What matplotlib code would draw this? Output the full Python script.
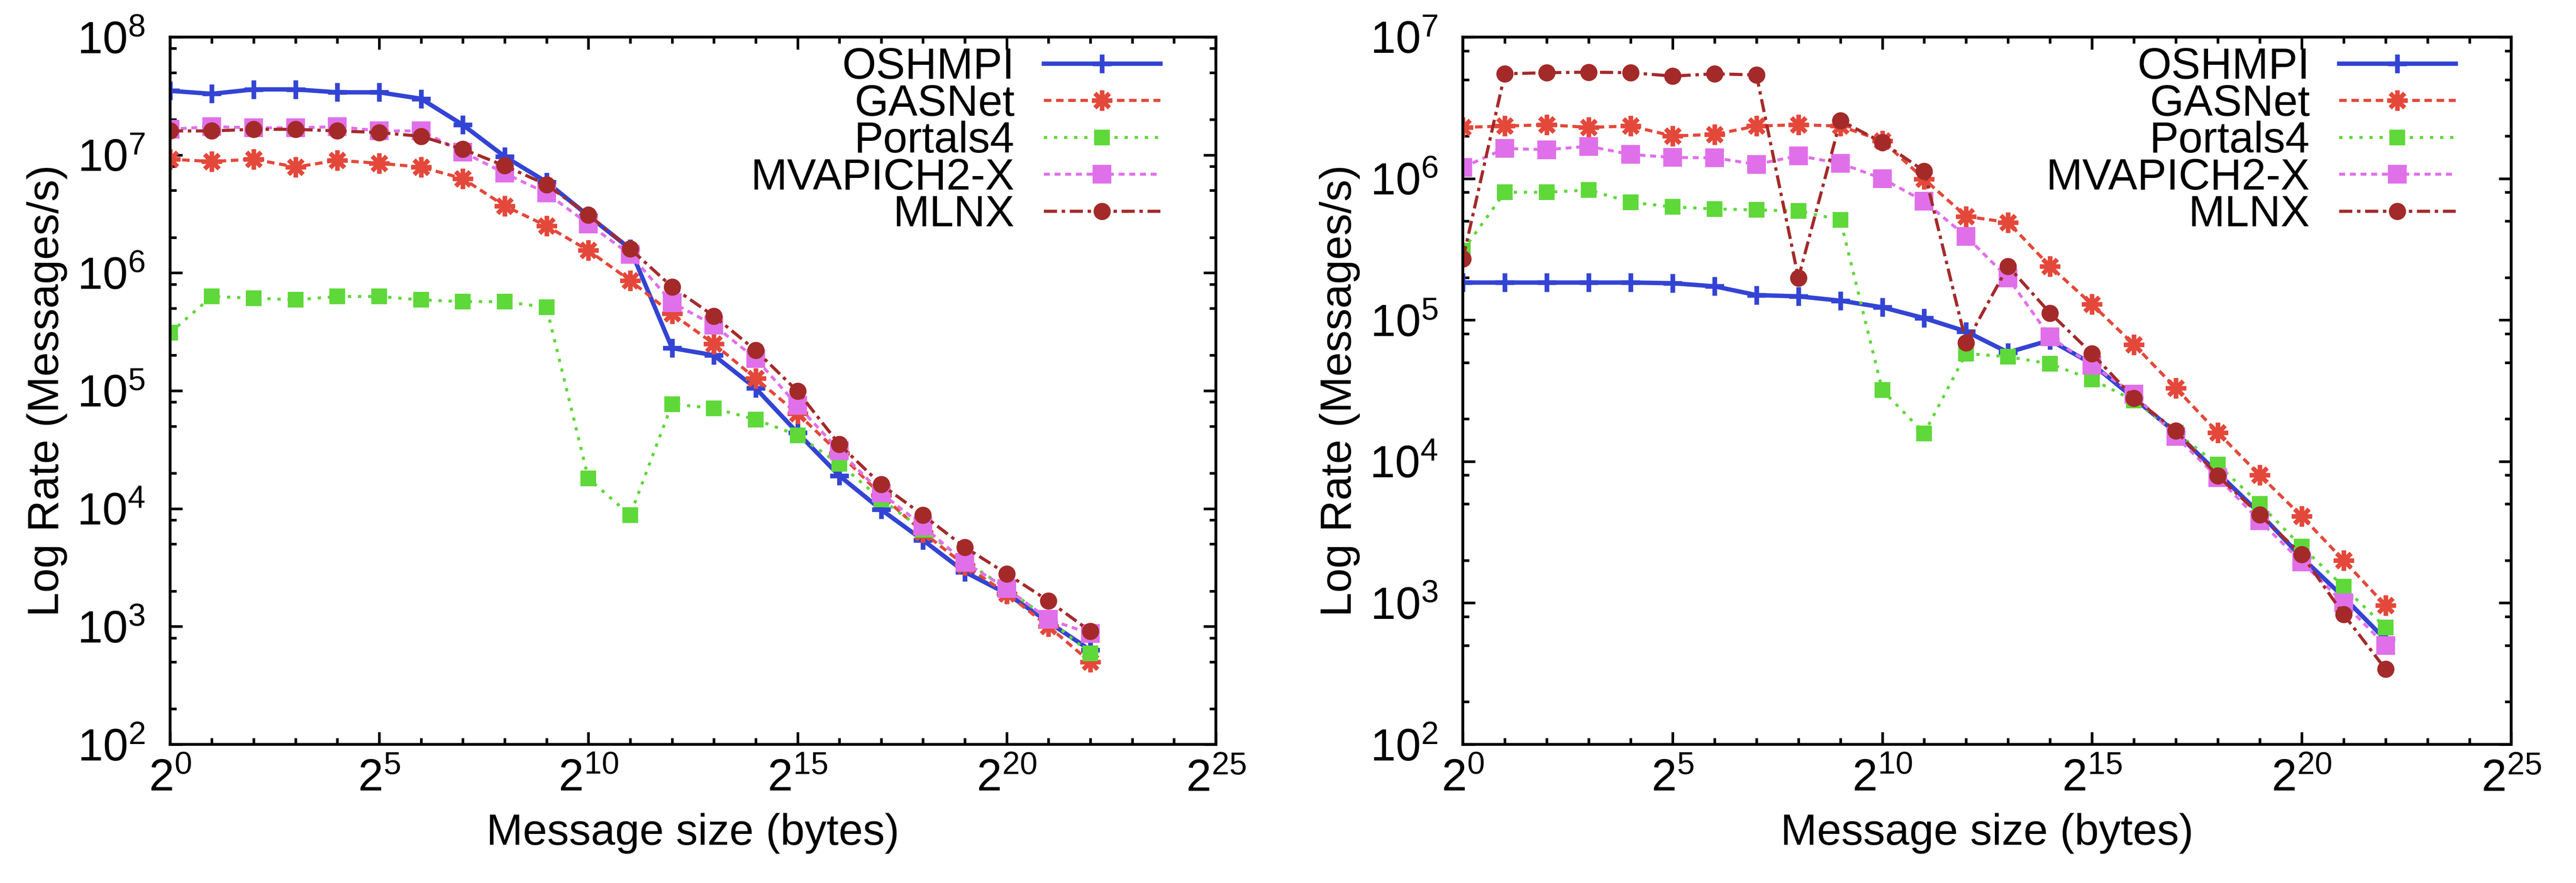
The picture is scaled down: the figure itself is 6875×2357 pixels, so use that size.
import matplotlib
matplotlib.use("Agg")
import matplotlib.pyplot as plt
import numpy as np
from matplotlib.ticker import FixedLocator, LogFormatterSciNotation, LogLocator, NullFormatter

plt.rcParams.update({
    "font.family": ["Liberation Sans", "DejaVu Sans"],
    "mathtext.fontset": "custom",
    "mathtext.rm": "Liberation Sans",
    "mathtext.it": "Liberation Sans:italic",
    "mathtext.bf": "Liberation Sans:bold",
    "mathtext.default": "regular",
    "font.size": 28,
    "axes.linewidth": 1.8,
})

# message size exponents: 2^0 .. 2^22 bytes
SIZE_EXP = [0, 1, 2, 3, 4, 5, 6, 7, 8, 9, 10, 11, 12, 13, 14, 15, 16, 17, 18, 19, 20, 21, 22]

LIBS = ["OSHMPI", "GASNet", "Portals4", "MVAPICH2-X", "MLNX"]

# left panel, messages/s
LEFT_OSHMPI = [3.5e7, 3.3e7, 3.6e7, 3.6e7, 3.4e7, 3.4e7, 3.0e7, 1.8e7, 9.7e6, 5.9e6, 3.05e6, 1.6e6,
               2.3e5, 2.0e5, 1.05e5, 4.4e4, 1.9e4, 9.8e3, 5.4e3, 2.9e3, 1.9e3, 1.09e3, 630]
LEFT_GASNET = [9.2e6, 8.8e6, 9.2e6, 7.9e6, 9.0e6, 8.5e6, 7.9e6, 6.3e6, 3.7e6, 2.5e6, 1.55e6, 8.6e5,
               4.5e5, 2.5e5, 1.27e5, 6.4e4, 2.95e4, 1.3e4, 6.3e3, 3.3e3, 1.9e3, 1.0e3, 500]
LEFT_PORTALS4 = [3.1e5, 6.3e5, 6.1e5, 5.9e5, 6.3e5, 6.3e5, 5.9e5, 5.7e5, 5.7e5, 5.1e5, 1.8e4, 8.8e3,
                 7.7e4, 7.1e4, 5.7e4, 4.2e4, 2.4e4, 1.2e4, 6.6e3, 3.6e3, 2.1e3, 1.15e3, 590]
LEFT_MVAPICH = [1.65e7, 1.74e7, 1.7e7, 1.7e7, 1.74e7, 1.6e7, 1.6e7, 1.06e7, 7.0e6, 4.75e6, 2.6e6, 1.43e6,
                5.6e5, 3.6e5, 1.87e5, 7.5e4, 3.1e4, 1.36e4, 7.1e3, 3.5e3, 2.1e3, 1.15e3, 870]
LEFT_MLNX = [1.6e7, 1.6e7, 1.65e7, 1.65e7, 1.6e7, 1.55e7, 1.44e7, 1.12e7, 8.1e6, 5.6e6, 3.1e6, 1.6e6,
             7.6e5, 4.3e5, 2.2e5, 9.9e4, 3.5e4, 1.6e4, 8.8e3, 4.7e3, 2.8e3, 1.65e3, 910]

# right panel, messages/s
RIGHT_OSHMPI = [1.84e5, 1.84e5, 1.84e5, 1.84e5, 1.84e5, 1.82e5, 1.73e5, 1.5e5, 1.47e5, 1.37e5, 1.23e5, 1.03e5,
                8.3e4, 5.9e4, 7.2e4, 4.9e4, 2.8e4, 1.6e4, 8.3e3, 4.3e3, 2.1e3, 1.1e3, 550]
RIGHT_GASNET = [2.3e6, 2.35e6, 2.4e6, 2.3e6, 2.35e6, 2.0e6, 2.05e6, 2.35e6, 2.4e6, 2.35e6, 1.85e6, 9.9e5,
                5.4e5, 4.9e5, 2.4e5, 1.29e5, 6.7e4, 3.3e4, 1.6e4, 8.0e3, 4.1e3, 2.0e3, 960]
RIGHT_PORTALS4 = [3.1e5, 8.0e5, 8.0e5, 8.3e5, 6.8e5, 6.3e5, 6.1e5, 6.0e5, 5.9e5, 5.1e5, 3.2e4, 1.58e4,
                  5.8e4, 5.5e4, 4.9e4, 3.8e4, 2.7e4, 1.6e4, 9.5e3, 5.0e3, 2.5e3, 1.3e3, 670]
RIGHT_MVAPICH = [1.2e6, 1.63e6, 1.6e6, 1.69e6, 1.48e6, 1.41e6, 1.4e6, 1.26e6, 1.45e6, 1.28e6, 1.0e6, 6.9e5,
                 3.9e5, 1.98e5, 7.6e4, 4.8e4, 3.0e4, 1.5e4, 7.7e3, 3.8e3, 1.95e3, 1.0e3, 500]
RIGHT_MLNX = [2.7e5, 5.5e6, 5.6e6, 5.65e6, 5.6e6, 5.3e6, 5.5e6, 5.4e6, 1.98e5, 2.57e6, 1.8e6, 1.13e6,
              6.9e4, 2.4e5, 1.12e5, 5.8e4, 2.8e4, 1.65e4, 7.9e3, 4.2e3, 2.2e3, 830, 340]

LEFT = [LEFT_OSHMPI, LEFT_GASNET, LEFT_PORTALS4, LEFT_MVAPICH, LEFT_MLNX]
RIGHT = [RIGHT_OSHMPI, RIGHT_GASNET, RIGHT_PORTALS4, RIGHT_MVAPICH, RIGHT_MLNX]

STYLES = {
    "OSHMPI": dict(color="#3344d4", lw=2.8, ls="-", marker="+", ms=12, mew=3),
    "GASNet": dict(color="#e4483a", lw=2.0, ls=(0, (2.4, 1.5)), marker=(8, 2, 0), ms=13, mew=2.8),
    "Portals4": dict(color="#5fd83a", lw=1.9, ls=(0, (1.1, 2.3)), marker="s", ms=10, mew=0),
    "MVAPICH2-X": dict(color="#e070ea", lw=1.9, ls=(0, (2.0, 1.6)), marker="s", ms=12, mew=0),
    "MLNX": dict(color="#a42a2a", lw=2.0, ls=(0, (4.2, 1.5, 1.1, 1.5)), marker="o", ms=11, mew=0),
}


def draw_panel(ax, series, ymax):
    sizes = 2.0 ** np.array(SIZE_EXP)
    for name, values in zip(LIBS, series):
        st = STYLES[name]
        ax.plot(sizes, values, label=name, color=st["color"], lw=st["lw"], ls=st["ls"],
                marker=st["marker"], ms=st["ms"], mew=st["mew"], mec=st["color"], mfc=st["color"])

    ax.set_xscale("log", base=2)
    ax.set_yscale("log")
    ax.set_xlim(1, 2.0 ** 25)
    ax.set_ylim(1e2, ymax)

    ax.xaxis.set_major_locator(FixedLocator(2.0 ** np.arange(0, 26, 5)))
    ax.xaxis.set_minor_locator(FixedLocator(2.0 ** np.arange(0, 26)))
    ax.xaxis.set_major_formatter(LogFormatterSciNotation(base=2))
    ax.xaxis.set_minor_formatter(NullFormatter())
    ax.yaxis.set_major_locator(LogLocator(base=10, numticks=20))
    ax.yaxis.set_minor_locator(LogLocator(base=10, subs=(2.0, 5.0, 8.0), numticks=20))
    ax.yaxis.set_minor_formatter(NullFormatter())

    ax.tick_params(which="both", direction="in", top=True, right=True, width=1.7, labelsize=29)
    ax.tick_params(which="major", length=8)
    ax.tick_params(which="minor", length=4)
    ax.tick_params(axis="y", which="major", pad=16)
    ax.tick_params(axis="x", which="major", pad=9)

    ax.set_xlabel("Message size (bytes)", fontsize=28, labelpad=8)
    ax.set_ylabel("Log Rate (Messages/s)", fontsize=28, labelpad=6)

    ax.legend(loc="upper right", bbox_to_anchor=(0.947, 0.986), frameon=False, markerfirst=False,
              handlelength=2.67, handletextpad=0.67, labelspacing=-0.09, borderpad=0,
              borderaxespad=0, numpoints=1, fontsize=28)


fig = plt.figure(figsize=(6875 / 300, 2357 / 300), dpi=300)
ax_left = fig.add_axes([0.0660, 0.1570, 0.4060, 0.8010])
ax_right = fig.add_axes([0.5679, 0.1570, 0.4070, 0.8010])

draw_panel(ax_left, LEFT, 1e8)
draw_panel(ax_right, RIGHT, 1e7)

fig.savefig("out.png", dpi=300, facecolor="white")
